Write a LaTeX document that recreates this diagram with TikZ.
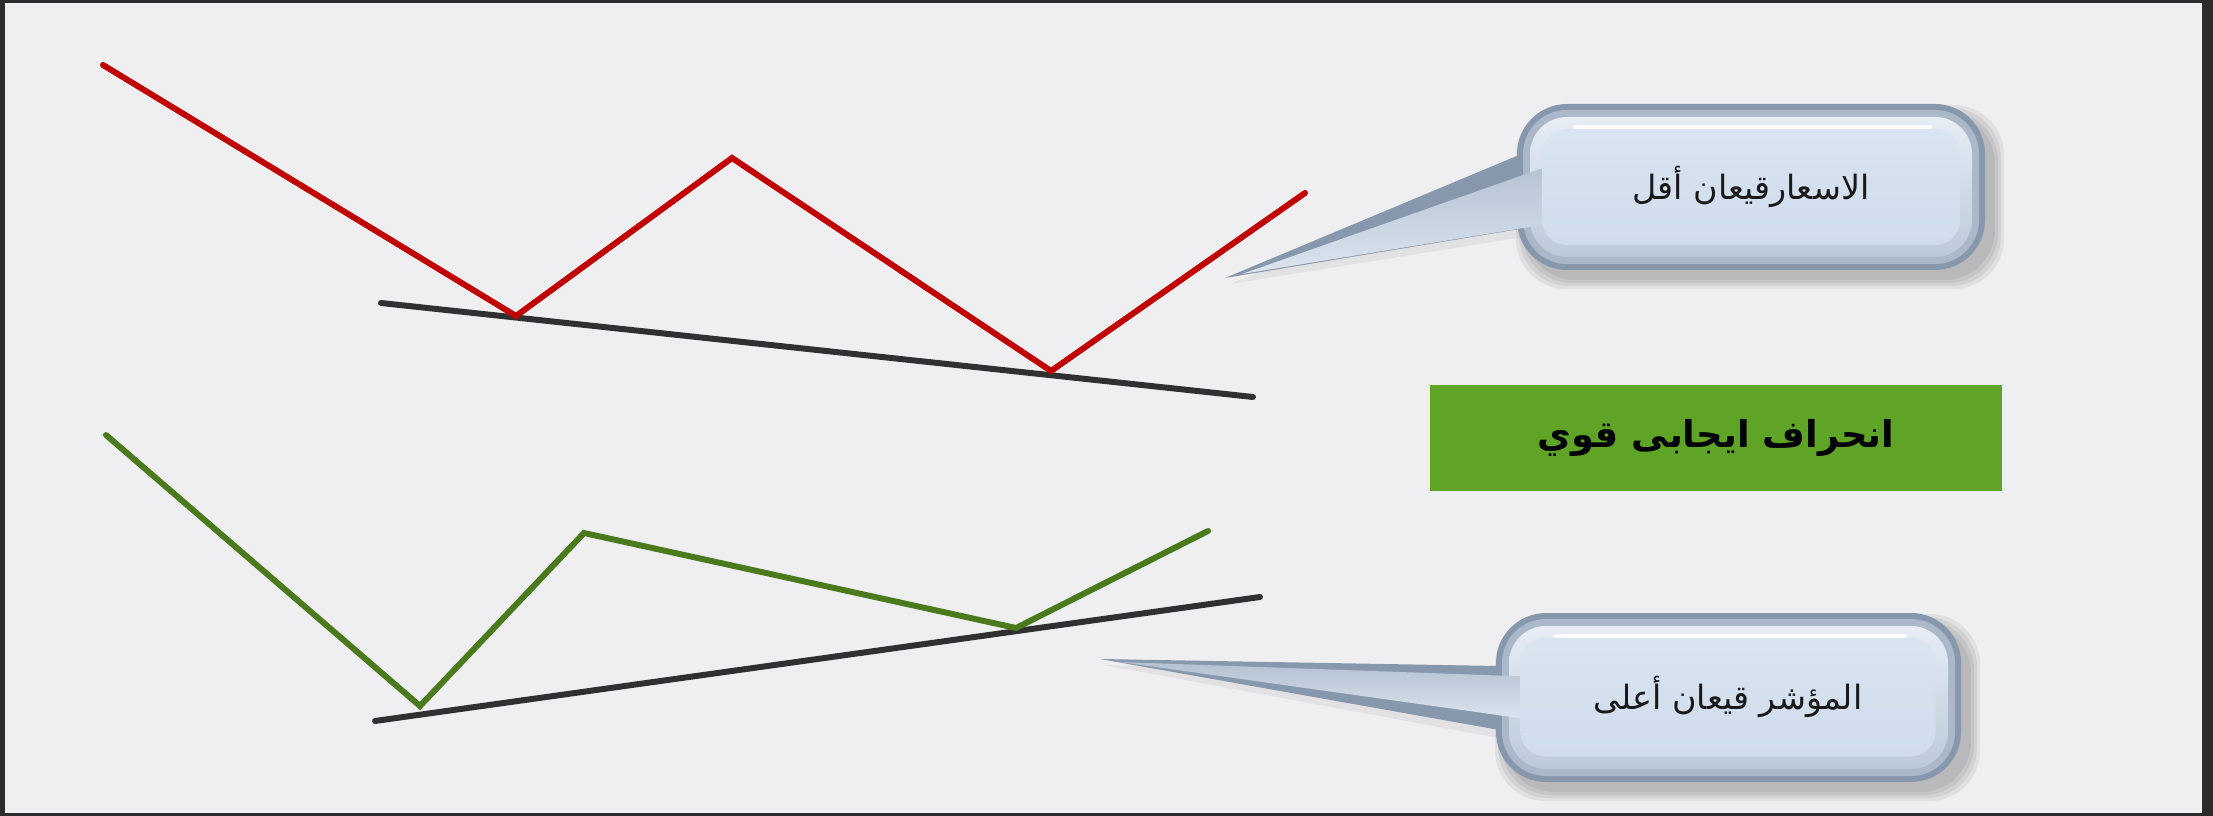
\documentclass[tikz,border=0pt]{standalone}
\usepackage{fontspec}
\newfontfamily\arabicfont[Script=Arabic]{DejaVu Sans}
\TeXXeTstate=1
\definecolor{bgl}{HTML}{EFEFF1}
\definecolor{frame}{HTML}{2C2C2C}
\definecolor{redl}{HTML}{C00000}
\definecolor{greenl}{HTML}{4B7A1D}
\definecolor{blackl}{HTML}{303030}
\definecolor{boxg}{HTML}{5FA426}
\definecolor{rimout}{HTML}{8898AC}
\definecolor{rimmid}{HTML}{AAB8C9}
\definecolor{bevtop}{HTML}{E6EDF5}
\definecolor{bevbot}{HTML}{BCC9D9}
\definecolor{facetop}{HTML}{DAE4F1}
\definecolor{facebot}{HTML}{CFDCEC}
\definecolor{tailtop}{HTML}{B3C1D2}
\definecolor{tailbot}{HTML}{DCE5F0}
\tikzset{
  chartline/.style={line width=1.7pt, line cap=round, line join=miter},
  shadowbox/.style={black, opacity=0.06, rounded corners=0.5cm},
  outerbox/.style={fill=rimout, rounded corners=0.5cm},
  midbox/.style={fill=rimmid, rounded corners=0.44cm},
  bevelbox/.style={rounded corners=0.37cm, top color=bevtop, bottom color=bevbot},
  tailout/.style={fill=rimout},
  tailin/.style={top color=tailtop, bottom color=tailbot},
  face/.style={rounded corners=0.25cm, top color=facetop, bottom color=facebot,
    inner sep=0pt, font=\arabicfont\fontsize{9.5}{11}\selectfont, text=black!90},
  greenbox/.style={fill=boxg, minimum width=5.72cm, minimum height=1.05cm, inner sep=0pt,
    font=\arabicfont\bfseries\fontsize{10.5}{12}\selectfont, text=black},
}
\begin{document}
\begin{tikzpicture}[x=0.01cm, y=-0.01cm]
\fill[frame] (0,0) rectangle (2213,816);
\fill[bgl] (5,3) rectangle (2202,813);
\useasboundingbox (0,0) rectangle (2213,816);

% ---- chart lines
\coordinate (r1) at (103,65);
\coordinate (r2) at (516,316);
\coordinate (r3) at (732,158);
\coordinate (r4) at (1051,371);
\coordinate (r5) at (1305,193);
\coordinate (ta) at (381,303);
\coordinate (tb) at (1253,397);
\coordinate (g1) at (106,435);
\coordinate (g2) at (420,706);
\coordinate (g3) at (584,533);
\coordinate (g4) at (1016,628);
\coordinate (g5) at (1208,531);
\coordinate (ba) at (375,721);
\coordinate (bb) at (1260,597);

\draw[chartline, blackl] (ta) -- (tb);
\draw[chartline, redl] (r1) -- (r2) -- (r3) -- (r4) -- (r5);
\draw[chartline, blackl] (ba) -- (bb);
\draw[chartline, greenl] (g1) -- (g2) -- (g3) -- (g4) -- (g5);

% ---- callout 1
\foreach \d in {0,3,6,9}
  \fill[shadowbox] (1525-\d,114-\d) rectangle (1995+\d,280+\d);
\fill[black, opacity=0.05] (1519,166) -- (1230,284) -- (1530,236) -- cycle;
\coordinate (t1a) at (1519,155);
\coordinate (t1tip) at (1225,278);
\coordinate (t1b) at (1526,228);
\fill[outerbox] (1517,104) rectangle (1985,270);
\fill[tailout] (t1a) -- (t1tip) -- (t1b) -- (1545,228) -- (1545,155) -- cycle;
\fill[midbox] (1523,110) rectangle (1979,264);
\shade[bevelbox] (1530,117) rectangle (1972,257);
\shade[tailin] (1560,162) -- (1242,274) -- (1560,222) -- cycle;
\node[face, minimum width=4.18cm, minimum height=1.16cm] (c1) at (1751,187)
  {\beginR الاسعارقيعان أقل\endR};
\draw[white, opacity=0.9, line width=1pt, line cap=round] (1575,127) -- (1930,127);

% ---- callout 2
\foreach \d in {0,3,6,9}
  \fill[shadowbox] (1504-\d,623-\d) rectangle (1971+\d,792+\d);
\fill[black, opacity=0.05] (1500,678) -- (1104,665) -- (1509,740) -- cycle;
\coordinate (t2a) at (1498,666);
\coordinate (t2tip) at (1100,659);
\coordinate (t2b) at (1505,731);
\fill[outerbox] (1496,613) rectangle (1961,782);
\fill[tailout] (t2a) -- (t2tip) -- (t2b) -- (1525,731) -- (1525,666) -- cycle;
\fill[midbox] (1502,619) rectangle (1955,776);
\shade[bevelbox] (1509,626) rectangle (1948,769);
\shade[tailin] (1540,677) -- (1120,662) -- (1540,721) -- cycle;
\node[face, minimum width=4.15cm, minimum height=1.19cm] (c2) at (1728,697)
  {\beginR المؤشر قيعان أعلى\endR};
\draw[white, opacity=0.9, line width=1pt, line cap=round] (1555,636) -- (1905,636);

% ---- green box
\node[greenbox] (g) at (1716,438) {\beginR انحراف ايجابى قوي\endR};
\end{tikzpicture}
\end{document}
